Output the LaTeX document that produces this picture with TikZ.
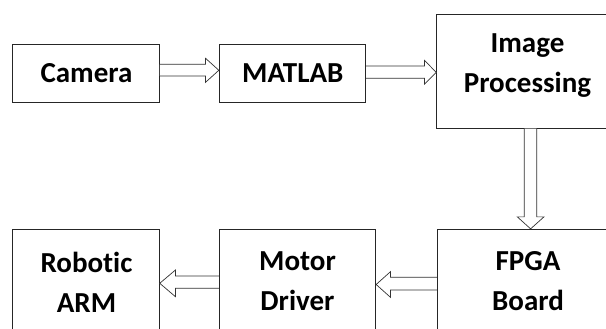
\documentclass[tikz,border=0pt]{standalone}
\usepackage{fontspec}
\setmainfont{Carlito}[Ligatures={NoCommon,NoRequired,NoContextual}]
\usetikzlibrary{calc}
\begin{document}
\begin{tikzpicture}[x=1pt,y=-1pt,
  box/.style={draw=black!85,line width=0.9pt,fill=white,inner sep=0pt,rectangle},
  lbl/.style={font=\fontsize{29}{40}\selectfont\bfseries,align=center,inner sep=0pt,anchor=north},
  arr/.style={draw=black!80,line width=0.7pt,fill=white,line join=miter}]
\useasboundingbox (0,0) rectangle (606,329);
\clip (0,0) rectangle (606,329);
% boxes
\node[box,minimum width=146.6pt,minimum height=58.3pt] (cam) at (86,73.2) {};
\node[box,minimum width=146.4pt,minimum height=58.3pt] (mat) at (292.5,73.2) {};
\node[box,minimum width=181.6pt,minimum height=113.6pt] (ip) at (527.5,71.5) {};
\node[box,minimum width=180.7pt,minimum height=115pt] (fpga) at (527.7,286.8) {};
\node[box,minimum width=156.4pt,minimum height=115pt] (mot) at (297.5,286.8) {};
\node[box,minimum width=146.6pt,minimum height=115pt] (rob) at (86,286.8) {};
% labels
\node[lbl] (tcam) at (86.5,63.3) {Camera};
\node[lbl] (tmat) at (292.8,63.3) {MATLAB};
\node[lbl] (tip) at (527.5,33.3) {Image\\Processing};
\node[lbl] (trob) at (86.5,251.7) {Robotic\\ARM};
\node[lbl] (tmot) at (297.5,251.7) {Motor\\Driver};
\node[lbl] (tfpga) at (528,251.7) {FPGA\\Board};
% arrows
\draw[arr] (cam.east |- 0,64.3) -- ($(mat.west |- 0,64.3)+(-13.3,0)$)
  -- ($(mat.west |- 0,58.3)+(-13.3,0)$) -- (mat.west |- 0,70.3)
  -- ($(mat.west |- 0,82.3)+(-13.3,0)$) -- ($(mat.west |- 0,76)+(-13.3,0)$)
  -- (cam.east |- 0,76);
\draw[arr] (mat.east |- 0,66) -- ($(ip.west |- 0,66)+(-11.7,0)$)
  -- ($(ip.west |- 0,60.5)+(-11.7,0)$) -- (ip.west |- 0,72.3)
  -- ($(ip.west |- 0,84)+(-11.7,0)$) -- ($(ip.west |- 0,78.3)+(-11.7,0)$)
  -- (mat.east |- 0,78.3);
\draw[arr] (ip.south -| 524.3,0) -- ($(fpga.north -| 524.3,0)+(0,-12)$)
  -- ($(fpga.north -| 517.3,0)+(0,-12)$) -- (fpga.north -| 530.6,0)
  -- ($(fpga.north -| 544,0)+(0,-12)$) -- ($(fpga.north -| 536.7,0)+(0,-12)$)
  -- (ip.south -| 536.7,0);
\draw[arr] (fpga.west |- 0,277.3) -- ($(mot.east |- 0,277.3)+(14.3,0)$)
  -- ($(mot.east |- 0,271.7)+(14.3,0)$) -- (mot.east |- 0,284.5)
  -- ($(mot.east |- 0,297.3)+(14.3,0)$) -- ($(mot.east |- 0,290)+(14.3,0)$)
  -- (fpga.west |- 0,290);
\draw[arr] (mot.west |- 0,276) -- ($(rob.east |- 0,276)+(15.7,0)$)
  -- ($(rob.east |- 0,270)+(15.7,0)$) -- (rob.east |- 0,283.3)
  -- ($(rob.east |- 0,296.7)+(15.7,0)$) -- ($(rob.east |- 0,288.3)+(15.7,0)$)
  -- (mot.west |- 0,288.3);
\end{tikzpicture}
\end{document}
